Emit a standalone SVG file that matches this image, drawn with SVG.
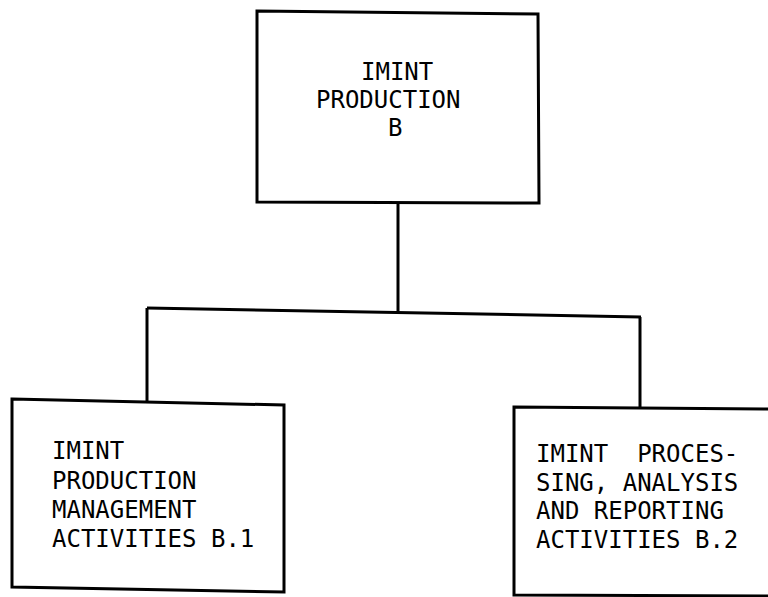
<svg xmlns="http://www.w3.org/2000/svg" width="768" height="597" viewBox="0 0 768 597">
<style>
.box{fill:#fff;stroke:#000;stroke-width:3;stroke-linejoin:miter}
.conn{fill:none;stroke:#000;stroke-width:3}
text{font-family:"DejaVu Sans Mono","Liberation Mono",monospace;font-size:24px;fill:#000;white-space:pre}
</style>
<rect width="768" height="597" fill="#fff"/>
<g id="connectors">
<path class="conn" d="M398,203 L398,312"/>
<path class="conn" d="M147,308 L641,317"/>
<path class="conn" d="M147,308 L147,401"/>
<path class="conn" d="M640,317 L640,408"/>
</g>
<g id="node-b">
<path class="box" d="M257,11 L538,14 L539,203 L257,202 Z"/>
<text x="361" y="80">IMINT</text>
<text x="316" y="108">PRODUCTION</text>
<text x="388" y="136">B</text>
</g>
<g id="node-b1">
<path class="box" d="M12,399 L284,405 L284,592 L12,587 Z"/>
<text x="52" y="459">IMINT</text>
<text x="52" y="489">PRODUCTION</text>
<text x="52" y="518">MANAGEMENT</text>
<text x="52" y="547">ACTIVITIES B.1</text>
</g>
<g id="node-b2">
<path class="box" d="M514,407 L772,409 L772,596 L514,595 Z"/>
<text x="536" y="462" xml:space="preserve">IMINT  PROCES-</text>
<text x="536" y="491">SING, ANALYSIS</text>
<text x="536" y="519">AND REPORTING</text>
<text x="536" y="548">ACTIVITIES B.2</text>
</g>
</svg>
